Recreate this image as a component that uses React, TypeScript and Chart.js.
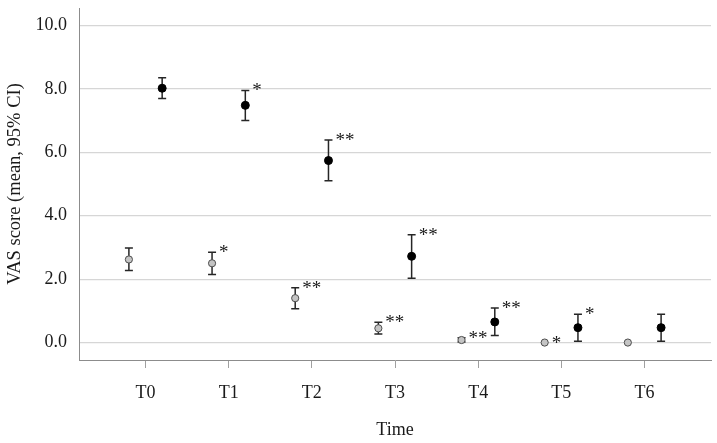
import React, { useEffect, useRef } from "react";
import { Chart, registerables } from "chart.js";

Chart.register(...registerables);

const categories = ["T0", "T1", "T2", "T3", "T4", "T5", "T6"];
const yTicks = [0, 2, 4, 6, 8, 10];

// Group A (grey markers)
const greyMean = [2.62, 2.5, 1.4, 0.45, 0.08, 0.0, 0.0];
const greyLower = [2.27, 2.15, 1.07, 0.27, 0.02, 0.0, 0.0];
const greyUpper = [2.98, 2.85, 1.73, 0.64, 0.15, 0.0, 0.0];
const greySig = ["", "*", "**", "**", "**", "*", ""];

// Group B (black markers)
const blackMean = [8.02, 7.48, 5.74, 2.72, 0.65, 0.47, 0.47];
const blackLower = [7.7, 7.0, 5.1, 2.03, 0.22, 0.04, 0.04];
const blackUpper = [8.35, 7.95, 6.39, 3.4, 1.09, 0.89, 0.89];
const blackSig = ["", "*", "**", "**", "**", "*", ""];

const GROUP_SHIFT = 0.2;
const FONT_FAMILY = "'Liberation Serif', 'Times New Roman', serif";
const TEXT_COLOR = "#1a1a1a";

type Series = { mean: number[]; lower: number[]; upper: number[]; sig: string[]; shift: number };
const seriesList: Series[] = [
  { mean: greyMean, lower: greyLower, upper: greyUpper, sig: greySig, shift: -GROUP_SHIFT },
  { mean: blackMean, lower: blackLower, upper: blackUpper, sig: blackSig, shift: GROUP_SHIFT },
];

const errorBarPlugin = {
  id: "errorBars",
  beforeDatasetsDraw(chart: any) {
    const { ctx, scales } = chart;
    const xs = scales.x;
    const ys = scales.y;
    ctx.save();
    ctx.strokeStyle = "#262626";
    ctx.lineWidth = 1.5;
    seriesList.forEach((s) => {
      s.mean.forEach((_, i) => {
        if (s.upper[i] - s.lower[i] < 1e-9) return;
        const x = xs.getPixelForValue(i + s.shift);
        const yl = ys.getPixelForValue(s.lower[i]);
        const yu = ys.getPixelForValue(s.upper[i]);
        ctx.beginPath();
        ctx.moveTo(x, yl);
        ctx.lineTo(x, yu);
        ctx.moveTo(x - 4, yl);
        ctx.lineTo(x + 4, yl);
        ctx.moveTo(x - 4, yu);
        ctx.lineTo(x + 4, yu);
        ctx.stroke();
      });
    });
    ctx.restore();
  },
  afterDatasetsDraw(chart: any) {
    const { ctx, scales } = chart;
    const xs = scales.x;
    const ys = scales.y;
    ctx.save();
    ctx.fillStyle = TEXT_COLOR;
    ctx.font = `19px ${FONT_FAMILY}`;
    ctx.textAlign = "left";
    ctx.textBaseline = "alphabetic";
    seriesList.forEach((s) => {
      s.sig.forEach((txt, i) => {
        if (!txt) return;
        const x = xs.getPixelForValue(i + s.shift);
        const yu = ys.getPixelForValue(s.upper[i]);
        ctx.fillText(txt, x + 7, yu + 6);
      });
    });
    ctx.restore();
  },
};

export default function App() {
  const ref = useRef<HTMLCanvasElement | null>(null);

  useEffect(() => {
    if (!ref.current) return;
    const font = { family: FONT_FAMILY, size: 18 };
    const chart = new Chart(ref.current, {
      type: "scatter",
      data: {
        datasets: [
          {
            label: "Grey",
            data: greyMean.map((v, i) => ({ x: i - GROUP_SHIFT, y: v })),
            pointRadius: 3.6,
            pointBorderWidth: 1,
            pointBackgroundColor: "#c4c4c4",
            pointBorderColor: "#4d4d4d",
          },
          {
            label: "Black",
            data: blackMean.map((v, i) => ({ x: i + GROUP_SHIFT, y: v })),
            pointRadius: 4,
            pointBorderWidth: 1,
            pointBackgroundColor: "#000000",
            pointBorderColor: "#000000",
          },
        ],
      },
      options: {
        responsive: false,
        animation: false,
        layout: { padding: { left: 0, top: 8, right: 6, bottom: 0 } },
        plugins: { legend: { display: false }, tooltip: { enabled: false } },
        scales: {
          x: {
            type: "linear",
            min: -0.8,
            max: 6.8,
            afterBuildTicks: (s: any) => {
              s.ticks = categories.map((_, i) => ({ value: i }));
            },
            afterFit: (s: any) => {
              s.height = 83;
              s.paddingLeft = 0;
              s.paddingRight = 0;
            },
            ticks: {
              callback: (v: any) => categories[Math.round(v)] ?? "",
              font,
              color: TEXT_COLOR,
              padding: 14,
              autoSkip: false,
              maxRotation: 0,
            },
            grid: {
              drawOnChartArea: false,
              drawTicks: true,
              tickLength: 8,
              color: "#a0a0a0",
              tickColor: "#a0a0a0",
            },
            border: { display: true, color: "#8c8c8c", width: 1 },
            title: {
              display: true,
              text: "Time",
              font,
              color: TEXT_COLOR,
              padding: { top: 4, bottom: 2 },
            },
          },
          y: {
            type: "linear",
            min: -0.55,
            max: 10.55,
            afterBuildTicks: (s: any) => {
              s.ticks = yTicks.map((v) => ({ value: v }));
            },
            afterFit: (s: any) => {
              s.width = 79;
              s.paddingTop = 0;
              s.paddingBottom = 0;
            },
            ticks: {
              callback: (v: any) => Number(v).toFixed(1),
              font,
              color: TEXT_COLOR,
              padding: 12,
            },
            grid: {
              drawTicks: false,
              color: "#d6d6d6",
              lineWidth: 1.2,
            },
            border: { display: true, color: "#8c8c8c", width: 1 },
            title: {
              display: true,
              text: "VAS score (mean, 95% CI)",
              font: { family: FONT_FAMILY, size: 18.5 },
              color: TEXT_COLOR,
              padding: { top: 4, bottom: 4 },
            },
          },
        },
      },
      plugins: [errorBarPlugin],
    } as any);
    return () => chart.destroy();
  }, []);

  return (
    <div style={{ position: "fixed", left: 0, top: 0, width: 717, height: 443, background: "#fff" }}>
      <canvas ref={ref} width={717} height={443} style={{ display: "block" }} />
    </div>
  );
}
